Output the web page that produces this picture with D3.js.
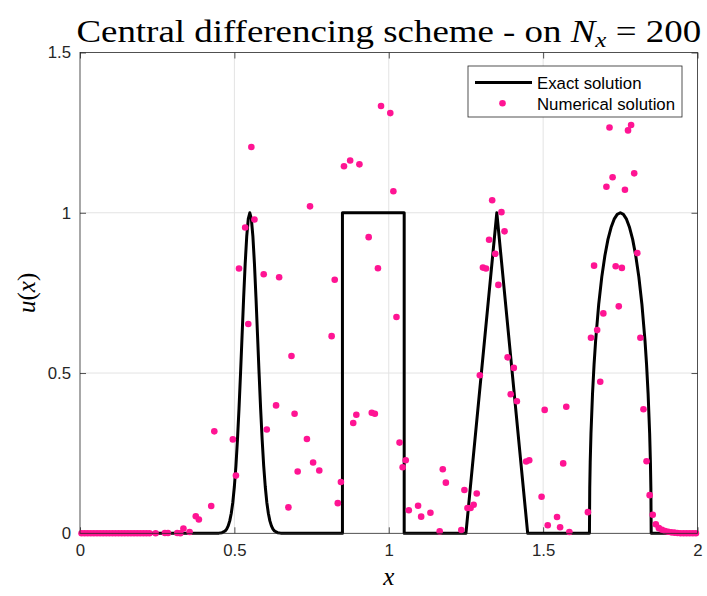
<!DOCTYPE html>
<html><head><meta charset="utf-8">
<script src="https://cdn.jsdelivr.net/npm/d3@7"></script>
<style>body{margin:0;background:#fff}svg{display:block}</style>
</head><body>
<svg id="chart" width="707" height="596"></svg>
<script>
// ---- data ----
const xTicks = [0, 0.5, 1, 1.5, 2];
const xTickLabels = ["0", "0.5", "1", "1.5", "2"];
const yTicks = [0, 0.5, 1, 1.5];
const yTickLabels = ["0", "0.5", "1", "1.5"];
const gridX = [0.5, 1, 1.5];
const gridY = [0.5, 1];

// exact solution
const exactX = [0, 0.44, 0.45, 0.46, 0.47, 0.475, 0.48, 0.485, 0.49, 0.495, 0.5, 0.505, 0.51, 0.515, 0.52, 0.525, 0.53, 0.535, 0.54, 0.545, 0.55,
  0.555, 0.56, 0.565, 0.57, 0.575, 0.58, 0.585, 0.59, 0.595, 0.6, 0.605, 0.61, 0.615, 0.62, 0.625, 0.63, 0.64, 0.65, 0.66,
  0.85, 0.85, 1.05, 1.05, 1.25, 1.35, 1.45,
  1.65, 1.651, 1.6525, 1.655, 1.66, 1.665, 1.67, 1.68, 1.69, 1.70, 1.71, 1.72, 1.73, 1.74, 1.75,
  1.76, 1.77, 1.78, 1.79, 1.80, 1.81, 1.82, 1.83, 1.835, 1.84, 1.845, 1.8475, 1.849, 1.85, 2];
const exactY = [0, 0, 0.0005, 0.002, 0.0072, 0.0132, 0.023, 0.0387, 0.0625, 0.097, 0.146, 0.21, 0.292, 0.389, 0.5, 0.618, 0.735, 0.841, 0.926, 0.981, 1,
  0.981, 0.926, 0.841, 0.735, 0.618, 0.5, 0.389, 0.292, 0.21, 0.146, 0.097, 0.0625, 0.0387, 0.023, 0.0132, 0.0072, 0.002, 0.0005, 0,
  0, 1, 1, 0, 0, 1, 0,
  0, 0.141, 0.222, 0.312, 0.436, 0.527, 0.6, 0.714, 0.8, 0.866, 0.917, 0.954, 0.98, 0.995, 1,
  0.995, 0.98, 0.954, 0.917, 0.866, 0.8, 0.714, 0.6, 0.527, 0.436, 0.312, 0.222, 0.141, 0, 0];

// numerical solution (visible points, cell centres)
const numX = [0.005, 0.015, 0.025, 0.035, 0.045, 0.055, 0.065, 0.075, 0.085, 0.095, 0.105, 0.115, 0.125, 0.135, 0.145, 0.155, 0.165, 0.175, 0.185, 0.195, 0.205, 0.215, 0.225,
  0.245, 0.275, 0.285, 0.315, 0.325, 0.335, 0.355, 0.375, 0.385, 0.425, 0.435, 0.495, 0.505, 0.515, 0.535, 0.545, 0.555, 0.565, 0.595, 0.605, 0.635, 0.645,
  0.675, 0.685, 0.695, 0.705, 0.735, 0.745, 0.755, 0.775, 0.815, 0.825, 0.835, 0.845, 0.855, 0.875, 0.885, 0.895, 0.905, 0.935, 0.945, 0.955, 0.965, 0.975,
  1.005, 1.015, 1.025, 1.035, 1.045, 1.055, 1.065, 1.095, 1.105, 1.135, 1.165, 1.175, 1.185, 1.235, 1.245, 1.255, 1.265, 1.275, 1.285, 1.295, 1.305, 1.315,
  1.325, 1.335, 1.345, 1.355, 1.365, 1.375, 1.385, 1.395, 1.405, 1.415, 1.445, 1.455, 1.495, 1.505, 1.515, 1.545, 1.555, 1.565, 1.575, 1.585,
  1.645, 1.655, 1.665, 1.675, 1.685, 1.695, 1.705, 1.715, 1.725, 1.735, 1.745, 1.755, 1.765, 1.775, 1.785, 1.795, 1.805, 1.815, 1.825, 1.835, 1.845, 1.855, 1.865,
  1.875, 1.885, 1.895, 1.905, 1.915, 1.925, 1.935, 1.945, 1.955, 1.965, 1.975, 1.985, 1.995];
const numY = [0, 0, 0, 0, 0, 0, 0, 0, 0, 0, 0, 0, 0, 0, 0, 0, 0, 0, 0, 0, 0, 0, 0,
  0, 0.001, 0.001, 0.001, 0, 0.015, 0.004, 0.053, 0.043, 0.085, 0.318, 0.293, 0.18, 0.826, 0.954, 0.653, 1.205, 0.979, 0.808, 0.324, 0.399, 0.799,
  0.081, 0.553, 0.373, 0.193, 0.294, 1.02, 0.221, 0.196, 0.615, 0.791, 0.094, 0.16, 1.145, 1.163, 0.344, 0.37, 1.151, 0.924, 0.376, 0.373, 0.827, 1.333,
  1.311, 1.067, 0.675, 0.283, 0.206, 0.228, 0.072, 0.086, 0.052, 0.064, 0.006, 0.2, 0.158, 0.01, 0.135, 0.079, 0.079, 0.089, 0.124, 0.493, 0.829, 0.826,
  0.916, 1.039, 0.872, 0.775, 1.002, 0.942, 0.549, 0.434, 0.516, 0.412, 0.224, 0.228, 0.114, 0.385, 0.025, 0.051, 0.019, 0.218, 0.395, 0.004,
  0.066, 0.61, 0.835, 0.634, 0.473, 0.686, 1.081, 1.266, 1.111, 0.833, 0.708, 0.828, 1.072, 1.257, 1.274, 1.123, 0.874, 0.61, 0.387, 0.225, 0.119, 0.058, 0.028,
  0.016, 0.011, 0.007, 0.005, 0.003, 0.002, 0.001, 0, 0, 0, 0, 0, 0];

const legendLabels = ["Exact solution", "Numerical solution"];

// ---- layout ----
const L = 80, R = 697.5, T = 52.5, B = 533.3;
const pink = "#ff1493";
const axisColor = "#262626";
const sans = "'Liberation Sans', Arial, sans-serif";
const svg = d3.select("#chart");
const x = d3.scaleLinear().domain([0, 2]).range([L, R]);
const y = d3.scaleLinear().domain([0, 1.5]).range([B, T]);

// grid
svg.append("g").selectAll("line").data(gridX).join("line")
  .attr("x1", d => x(d)).attr("x2", d => x(d)).attr("y1", T).attr("y2", B)
  .attr("stroke", "#e3e3e3").attr("stroke-width", 1);
svg.append("g").selectAll("line").data(gridY).join("line")
  .attr("y1", d => y(d)).attr("y2", d => y(d)).attr("x1", L).attr("x2", R)
  .attr("stroke", "#e3e3e3").attr("stroke-width", 1);

// axes (ticks pointing inwards)
function styleAxis(g) {
  g.select(".domain").remove();
  g.selectAll(".tick line").attr("stroke", axisColor).attr("stroke-width", 0.8);
  g.selectAll(".tick text").attr("fill", axisColor)
    .style("font-family", sans).style("font-size", "16.8px");
}
svg.append("g").attr("transform", `translate(0,${B})`)
  .call(d3.axisBottom(x).tickValues(xTicks).tickFormat((d, i) => xTickLabels[i]).tickSize(-6).tickPadding(11))
  .call(styleAxis);
svg.append("g").attr("transform", `translate(0,${T})`)
  .call(d3.axisTop(x).tickValues(xTicks).tickFormat("").tickSize(-6))
  .call(styleAxis);
svg.append("g").attr("transform", `translate(${L},0)`)
  .call(d3.axisLeft(y).tickValues(yTicks).tickFormat((d, i) => yTickLabels[i]).tickSize(-6).tickPadding(9))
  .call(styleAxis);
svg.append("g").attr("transform", `translate(${R},0)`)
  .call(d3.axisRight(y).tickValues(yTicks).tickFormat("").tickSize(-6))
  .call(styleAxis);

// exact line
const exact = exactX.map((v, i) => [v, exactY[i]]);
svg.append("path").datum(exact)
  .attr("d", d3.line().x(d => x(d[0])).y(d => y(d[1])))
  .attr("fill", "none").attr("stroke", "#000").attr("stroke-width", 3).attr("stroke-linejoin", "round");

// numerical points
const num = numX.map((v, i) => [v, numY[i]]);
svg.append("g").selectAll("circle").data(num).join("circle")
  .attr("cx", d => x(d[0])).attr("cy", d => y(d[1])).attr("r", 3.3).attr("fill", pink);

// box
svg.append("rect").attr("x", L).attr("y", T).attr("width", R - L).attr("height", B - T)
  .attr("fill", "none").attr("stroke", axisColor).attr("stroke-width", 0.8);

// legend
const lg = svg.append("g");
lg.append("rect").attr("x", 468).attr("y", 66).attr("width", 214).attr("height", 51)
  .attr("fill", "#fff").attr("stroke", axisColor).attr("stroke-width", 0.8);
lg.append("line").attr("x1", 475).attr("x2", 532).attr("y1", 82.5).attr("y2", 82.5)
  .attr("stroke", "#000").attr("stroke-width", 3);
lg.append("circle").attr("cx", 502.5).attr("cy", 103.3).attr("r", 3.3).attr("fill", pink);
lg.selectAll("text").data(legendLabels).join("text")
  .attr("x", 537).attr("y", (d, i) => 88.5 + i * 21)
  .style("font-family", sans).style("font-size", "16.8px")
  .attr("fill", "#000").text(d => d);

// title (serif, stretched horizontally to the reference width)
const serif = "'Liberation Serif', 'Times New Roman', serif";
const titleG = svg.append("g");
const title = titleG.append("text").attr("x", 0).attr("y", 0).attr("text-anchor", "middle")
  .style("font-family", serif).style("font-size", "31px").attr("fill", "#000");
title.append("tspan").text("Central differencing scheme - on ");
title.append("tspan").style("font-style", "italic").text("N");
title.append("tspan").style("font-style", "italic").style("font-size", "21px").attr("dy", 5).text("x");
title.append("tspan").attr("dy", -5).text(" = 200");
const tw = title.node().getComputedTextLength();
titleG.attr("transform", `translate(${(L + R) / 2},42) scale(${625 / tw},1)`);

// x label
svg.append("text").attr("x", (L + R) / 2).attr("y", 585).attr("text-anchor", "middle")
  .style("font-family", serif).style("font-size", "25px").style("font-style", "italic").attr("fill", "#000").text("x");

// y label
const yl = svg.append("text").attr("transform", `translate(35,${(T + B) / 2}) rotate(-90)`).attr("text-anchor", "middle")
  .style("font-family", serif).style("font-size", "25px").attr("fill", "#000");
yl.append("tspan").style("font-style", "italic").text("u");
yl.append("tspan").text("(");
yl.append("tspan").style("font-style", "italic").text("x");
yl.append("tspan").text(")");
</script>
</body></html>
